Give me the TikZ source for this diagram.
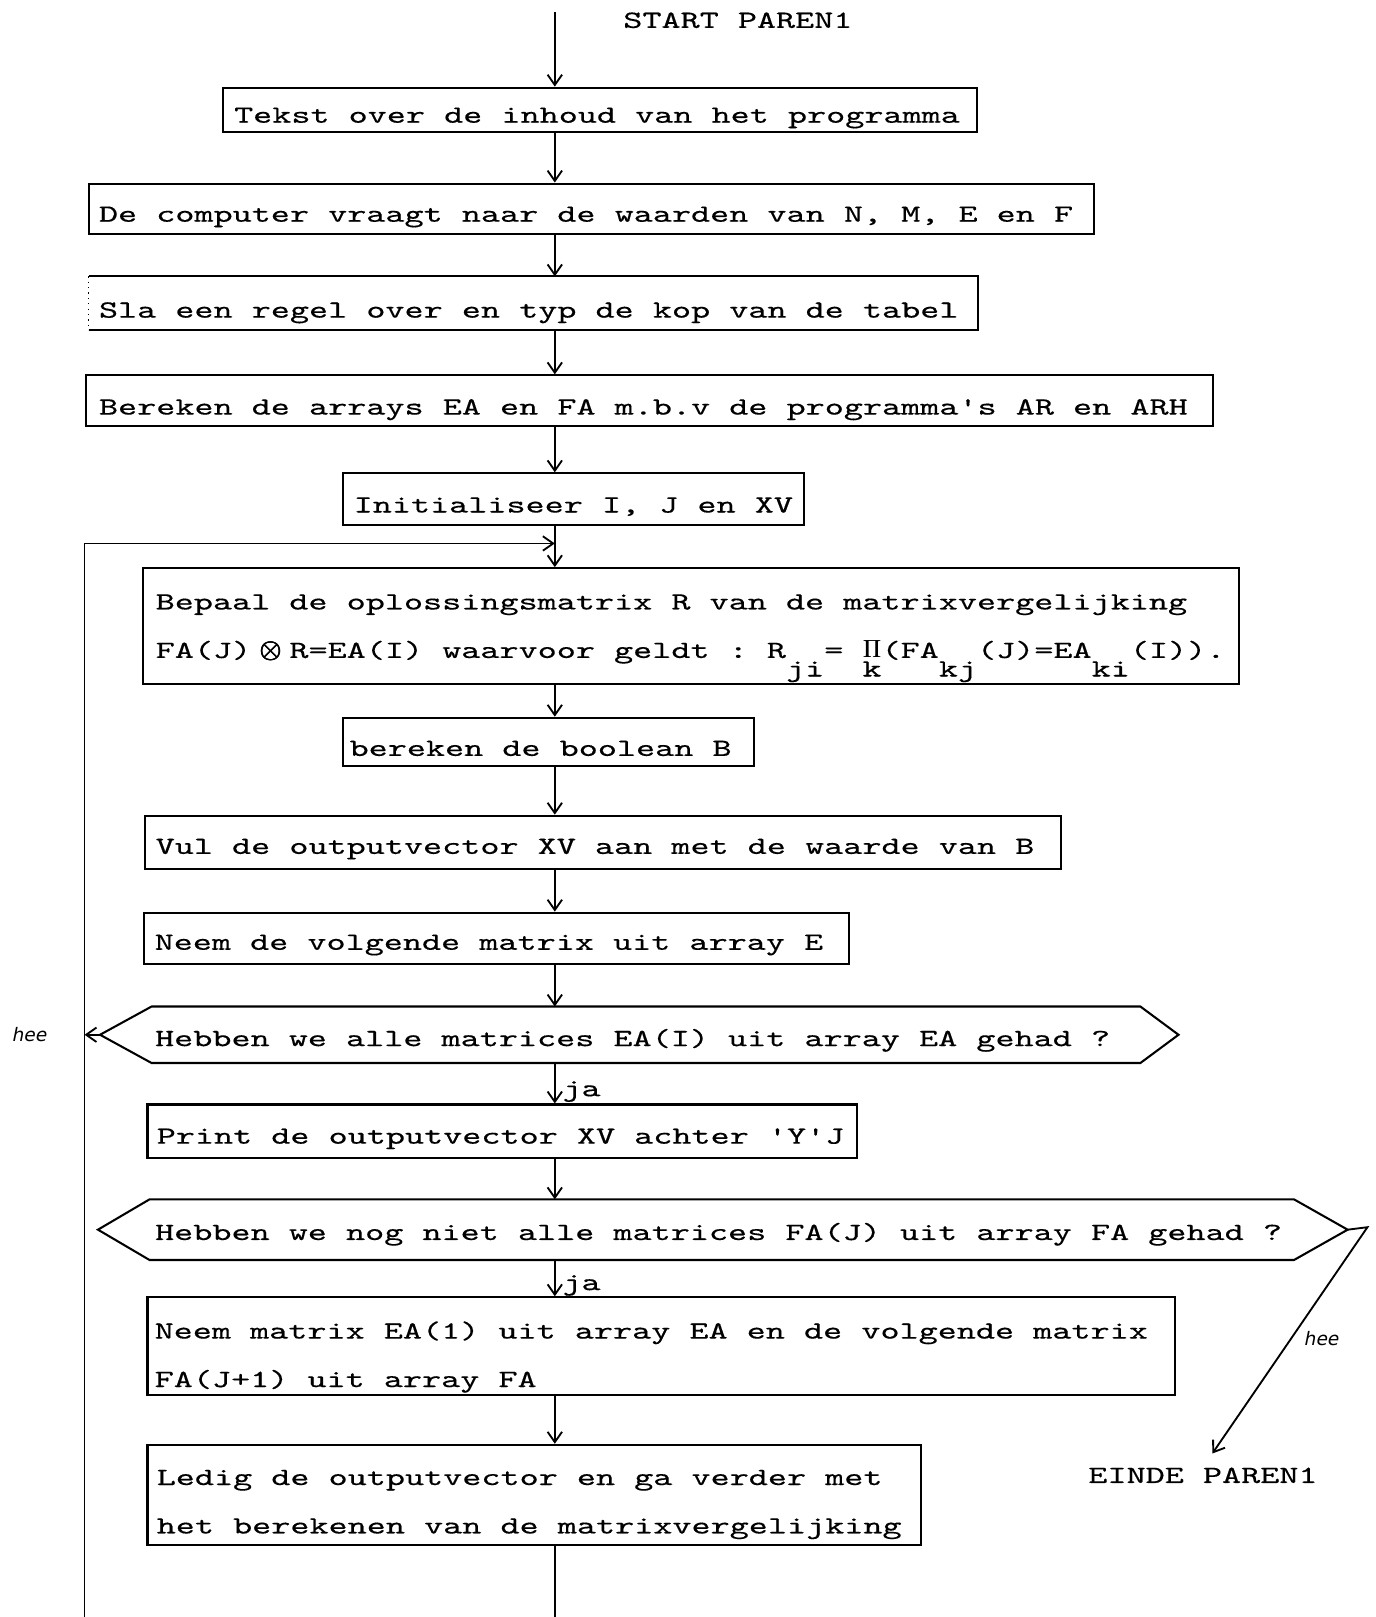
\documentclass[tikz,border=0pt]{standalone}
\usepackage{fontspec}
\usetikzlibrary{arrows.meta}
% typewriter face: wide fixed pitch, slightly heavy stroke
\newfontfamily\tw{lmmono10-regular.otf}[FakeStretch=1.47, FakeBold=0.4]
\newfontfamily\hand{DejaVu Sans}[FakeSlant=0.2]
\newlength\tcell
\setlength\tcell{9.261pt}
\newcommand\twsize{\tw\fontsize{12}{23.5}\selectfont}
% one typed line: every space is one full character cell
\newcommand\tline[1]{\mbox{\spaceskip=\tcell\xspaceskip=\tcell\relax #1}}
\newcommand\lo[1]{\raisebox{-9pt}{#1}}
\newcommand\circtimes{\rlap{\boldmath$\otimes$}\kern0.35pt\rlap{\boldmath$\otimes$}\kern-0.35pt\boldmath$\otimes$}
\newcommand\bigpi{\rlap{$\Pi$}\kern0.4pt$\Pi$}
\tikzset{
  box/.style={draw, line width=1pt, anchor=north west, inner ysep=0pt, align=left},
  hexin/.style={anchor=north west, inner ysep=0pt, align=left},
  ln/.style={line width=0.9pt},
  arr/.style={line width=0.9pt, -{Straight Barb[length=5pt,width=7pt,line width=0.9pt]}},
  lbl/.style={inner sep=0pt, anchor=base west},
  handlbl/.style={inner sep=0pt, font=\hand\fontsize{9}{9}\selectfont},
}
\begin{document}
\begin{tikzpicture}[x=0.5pt, y=-0.5pt, every node/.append style={font=\twsize}]
\fill[white] (0,0) rectangle (1334,1568);
\useasboundingbox (0,0) rectangle (1334,1568);

\coordinate (ax) at (538,0);

% start label and entry arrow
\node[lbl] (start) at (604,27) {\tline{START PAREN1}};
\coordinate (s0) at (538,12);

% boxes
\node[box, inner xsep=5.5pt, text width=354.5pt, text height=17pt, text depth=4.5pt] (b1) at (215,84)
  {\tline{Tekst over de inhoud van het programma}};
\node[box, inner xsep=5pt, text width=477.5pt, text height=18.5pt, text depth=6pt] (b2) at (85,177)
  {\tline{De computer vraagt naar de waarden van N, M, E en F}};
\node[box, draw=none, inner xsep=4.5pt, text width=421pt, text height=19.5pt, text depth=5.5pt] (b3) at (86,268)
  {\tline{Sla een regel over en typ de kop van de tabel}};
\draw[line width=1pt] (b3.south west) -- (b3.south east) -- (b3.north east) -- (b3.north west);
\draw[line width=0.6pt, dotted] (b3.north west) -- (b3.south west);
\node[box, inner xsep=6.5pt, text width=533.5pt, text height=19pt, text depth=5.5pt] (b4) at (82,363)
  {\tline{Bereken de arrays EA en FA m.b.v de programma's AR en ARH}};
\node[box, inner xsep=5pt, text width=213.5pt, text height=19pt, text depth=6pt] (b5) at (332,458)
  {\tline{Initialiseer I, J en XV}};
\node[box, inner xsep=6pt, text width=519pt, text height=20pt, text depth=36pt] (b6) at (138,550)
  {\tline{Bepaal de oplossingsmatrix R van de matrixvergelijking}\\
   \tline{FA(J)\makebox[2\tcell]{\circtimes}R=EA(I) waarvoor geldt : R\lo{ji}= \makebox[\tcell]{\bigpi}\llap{\makebox[\tcell]{\lo{k}}}(FA\lo{kj}(J)=EA\lo{ki}(I)).}};
\node[box, inner xsep=3pt, text width=193pt, text height=18.5pt, text depth=5pt] (b7) at (332,695)
  {\tline{bereken de boolean B}};
\node[box, inner xsep=5pt, text width=434pt, text height=18.5pt, text depth=7.5pt] (b8) at (140,790)
  {\tline{Vul de outputvector XV aan met de waarde van B}};
\node[box, inner xsep=5pt, text width=331.5pt, text height=18pt, text depth=7pt] (b9) at (139,884)
  {\tline{Neem de volgende matrix uit array E}};

% first decision
\node[hexin, inner xsep=1.5pt, text width=476pt, text height=19pt, text depth=8pt] (h1) at (147,976)
  {\tline{Hebben we alle matrices EA(I) uit array EA gehad ?}};
\coordinate (h1l) at ([xshift=-25pt]h1.west);
\draw[line width=1pt] (h1.north west) -- (h1.north east) -- ([xshift=18.5pt]h1.east)
  -- (h1.south east) -- (h1.south west) -- (h1l) -- cycle;

\node[box, inner xsep=4.5pt, text width=335pt, text height=19pt, text depth=7pt] (b10) at (142,1070)
  {\tline{Print de outputvector XV achter 'Y'J}};

% second decision
\node[hexin, inner xsep=2.5pt, text width=549.5pt, text height=19.5pt, text depth=9.5pt] (h2) at (145,1163)
  {\tline{Hebben we nog niet alle matrices FA(J) uit array FA gehad ?}};
\coordinate (h2r) at ([xshift=26pt]h2.east);
\draw[line width=1pt] (h2.north west) -- (h2.north east) -- (h2r)
  -- (h2.south east) -- (h2.south west) -- ([xshift=-25pt]h2.west) -- cycle;

\node[box, inner xsep=3.5pt, text width=491pt, text height=20pt, text depth=27.5pt] (b11) at (142,1257)
  {\tline{Neem matrix EA(1) uit array EA en de volgende matrix}\\
   \tline{FA(J+1) uit array FA}};
\node[box, inner xsep=4.5pt, text width=366pt, text height=19.5pt, text depth=29pt] (b12) at (142,1400)
  {\tline{Ledig de outputvector en ga verder met}\\
   \tline{het berekenen van de matrixvergelijking}};

% end label
\node[lbl] (einde) at (1055,1438) {\tline{EINDE PAREN1}};

% branch labels
\node[lbl] (ja1) at (545,1063) {ja};
\node[lbl] (ja2) at (545,1251) {ja};
\node[handlbl] (nee1) at (28,1003) {hee};
\node[handlbl] (nee2) at (1281,1298) {hee};

% main flow
\draw[arr] (s0) -- (s0 |- b1.north);
\draw[arr] (b1.south -| ax) -- (b2.north -| ax);
\draw[arr] (b2.south -| ax) -- (b3.north -| ax);
\draw[arr] (b3.south -| ax) -- (b4.north -| ax);
\draw[arr] (b4.south -| ax) -- (b5.north -| ax);
\draw[arr] (b5.south -| ax) -- (b6.north -| ax);
\draw[arr] (b6.south -| ax) -- (b7.north -| ax);
\draw[arr] (b7.south -| ax) -- (b8.north -| ax);
\draw[arr] (b8.south -| ax) -- (b9.north -| ax);
\draw[arr] (b9.south -| ax) -- (h1.north -| ax);
\draw[arr] (h1.south -| ax) -- (b10.north -| ax);
\draw[arr] (b10.south -| ax) -- (h2.north -| ax);
\draw[arr] (h2.south -| ax) -- (b11.north -| ax);
\draw[arr] (b11.south -| ax) -- (b12.north -| ax);
\coordinate (cb) at (538,1568);
\draw[ln] (b12.south -| ax) -- (cb);

% return loop on the left
\coordinate (lb) at (82,1568);
\coordinate (lt) at (82,527);
\draw[arr] (lb) -- (lt) -- (lt -| ax);
\draw[arr] (h1l) -- (h1l -| lt);

% exit branch on the right
\coordinate (h2k) at (1326,1190);
\draw[arr, shorten >=8pt] (h2r) -- (h2k) -- (einde.north);
\end{tikzpicture}
\end{document}
